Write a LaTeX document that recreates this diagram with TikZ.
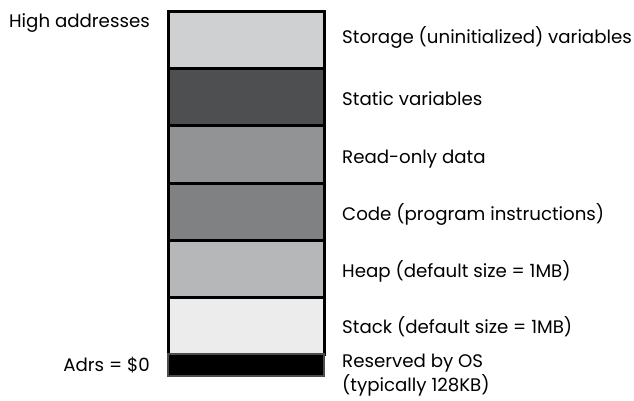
\documentclass[tikz,border=0pt]{standalone}
\usepackage{fontspec}
\setmainfont{Poppins}
\definecolor{storagegray}{HTML}{CFD0D2}
\definecolor{staticgray}{HTML}{4E4F51}
\definecolor{rodatagray}{HTML}{929395}
\definecolor{codegray}{HTML}{808183}
\definecolor{heapgray}{HTML}{B6B7B9}
\definecolor{stackgray}{HTML}{EBECEB}
\begin{document}
\begin{tikzpicture}[x=1pt,y=-1pt,
  band/.style={draw=black,line width=3pt,minimum width=156pt,
    inner sep=0pt,outer sep=0pt,anchor=north west},
  lbl/.style={anchor=base west,inner sep=0pt,
    font=\fontsize{18.2}{21}\selectfont},
  leftlbl/.style={lbl,anchor=base east}]
\useasboundingbox (0,0) rectangle (634,401);

% memory segments, from high addresses down to address 0
\node[band,fill=storagegray,minimum height=57pt] (storage) at (168,12)  {};
\node[band,fill=staticgray, minimum height=57pt] (static)  at (168,69)  {};
\node[band,fill=rodatagray, minimum height=57pt] (rodata)  at (168,126) {};
\node[band,fill=codegray,   minimum height=57pt] (code)    at (168,183) {};
\node[band,fill=heapgray,   minimum height=57pt] (heap)    at (168,240) {};
\node[band,fill=stackgray,  minimum height=57pt] (stack)   at (168,297) {};
\node[band,fill=black,draw=black!70,line width=1.5pt,minimum height=22pt] (os) at (168,354) {};

% segment descriptions
\node[lbl] (tstorage) at (342,44)  {Storage (uninitialized) variables};
\node[lbl] (tstatic)  at (342,106) {Static variables};
\node[lbl] (trodata)  at (342,163) {Read-only data};
\node[lbl] (tcode)    at (342,220) {Code (program instructions)};
\node[lbl] (theap)    at (342,277) {Heap (default size = 1MB)};
\node[lbl] (tstack)   at (342,333) {Stack (default size = 1MB)};
\node[lbl] (tos1)     at (342,367) {Reserved by OS};
\node[lbl] (tos2)     at (342,391) {(typically 128KB)};

% address markers
\node[leftlbl] (high) at (150,28)  {High addresses};
\node[leftlbl] (low)  at (150,371) {Adrs = \$0};
\end{tikzpicture}
\end{document}
